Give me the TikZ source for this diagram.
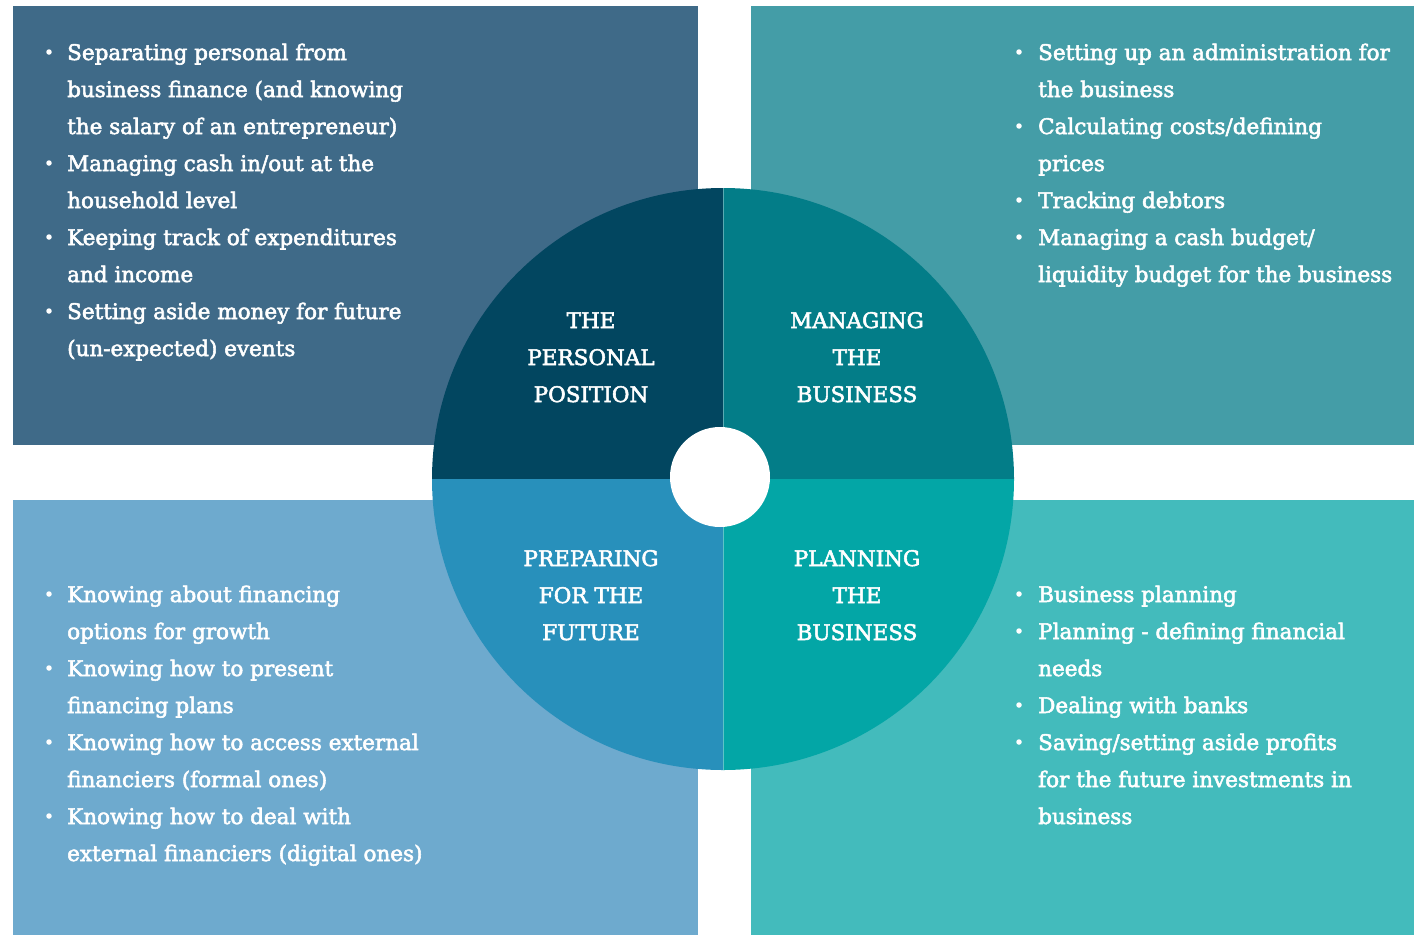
\documentclass[tikz,border=0pt]{standalone}
\usepackage{fontspec}
\setmainfont{DejaVu Serif}[FakeBold=2.5]
\definecolor{boxTL}{HTML}{3F6A88}
\definecolor{boxTR}{HTML}{449DA7}
\definecolor{boxBL}{HTML}{6EAACE}
\definecolor{boxBR}{HTML}{43BBBC}
\definecolor{segTL}{HTML}{024660}
\definecolor{segTR}{HTML}{037D88}
\definecolor{segBL}{HTML}{2890BB}
\definecolor{segBR}{HTML}{03A6A6}
\begin{document}
\begin{tikzpicture}[x=1pt,y=-1pt,
  line/.style={anchor=base west,inner sep=0pt,text=white,font=\fontsize{21.5}{37}\selectfont},
  head/.style={anchor=base,inner sep=0pt,text=white,font=\fontsize{21.5}{37}\selectfont},
  dot/.style={circle,fill=white,inner sep=0pt,minimum size=5.5pt}]
\useasboundingbox (0,0) rectangle (1414,935);
% background panels
\fill[boxTL] (13,6) rectangle (698,445);
\fill[boxTR] (751,6) rectangle (1414,445);
\fill[boxBL] (13,500) rectangle (698,935);
\fill[boxBR] (751,500) rectangle (1414,935);
% central wheel
\coordinate (ctr) at (723,479);
\fill[segTL] (ctr) -- ++(-291,0) arc[start angle=180,end angle=270,radius=291] -- cycle;
\fill[segTR] (ctr) -- ++(0,-291) arc[start angle=270,end angle=360,radius=291] -- cycle;
\fill[segBR] (ctr) -- ++(291,0) arc[start angle=0,end angle=90,radius=291] -- cycle;
\fill[segBL] (ctr) -- ++(0,291) arc[start angle=90,end angle=180,radius=291] -- cycle;
\draw[white,opacity=0.35,line width=0.8pt] (723,188) -- (723,770);
\fill[white] (720,477) circle[radius=50];
% wheel labels
\foreach \t [count=\i] in {{THE},{PERSONAL},{POSITION}}
  \node[head] (hTL\i) at (591,{328+37*(\i-1)}) {\t};
\foreach \t [count=\i] in {{MANAGING},{THE},{BUSINESS}}
  \node[head] (hTR\i) at (857,{328+37*(\i-1)}) {\t};
\foreach \t [count=\i] in {{PREPARING},{FOR THE},{FUTURE}}
  \node[head] (hBL\i) at (591,{566+37*(\i-1)}) {\t};
\foreach \t [count=\i] in {{PLANNING},{THE},{BUSINESS}}
  \node[head] (hBR\i) at (857,{566+37*(\i-1)}) {\t};
% top-left list
\foreach \t [count=\i] in {{Separating personal from},{business finance (and knowing},{the salary of an entrepreneur)},{Managing cash in/out at the},{household level},{Keeping track of expenditures},{and income},{Setting aside money for future},{(un-expected) events}}
  \node[line] (tl\i) at (67,{60+37*(\i-1)}) {\t};
\foreach \i in {1,4,6,8}
  \node[dot] (btl\i) at (49,{52+37*(\i-1)}) {};
% top-right list
\foreach \t [count=\i] in {{Setting up an administration for},{the business},{Calculating costs/defining},{prices},{Tracking debtors},{Managing a cash budget/},{liquidity budget for the business}}
  \node[line] (tr\i) at (1038,{60+37*(\i-1)}) {\t};
\foreach \i in {1,3,5,6}
  \node[dot] (btr\i) at (1019,{52+37*(\i-1)}) {};
% bottom-left list
\foreach \t [count=\i] in {{Knowing about financing},{options for growth},{Knowing how to present},{financing plans},{Knowing how to access external},{financiers (formal ones)},{Knowing how to deal with},{external financiers (digital ones)}}
  \node[line] (bl\i) at (67,{602+37*(\i-1)}) {\t};
\foreach \i in {1,3,5,7}
  \node[dot] (bbl\i) at (49,{594+37*(\i-1)}) {};
% bottom-right list
\foreach \t [count=\i] in {{Business planning},{Planning - defining financial},{needs},{Dealing with banks},{Saving/setting aside profits},{for the future investments in},{business}}
  \node[line] (br\i) at (1038,{602+37*(\i-1)}) {\t};
\foreach \i in {1,2,4,5}
  \node[dot] (bbr\i) at (1019,{594+37*(\i-1)}) {};
\end{tikzpicture}
\end{document}
